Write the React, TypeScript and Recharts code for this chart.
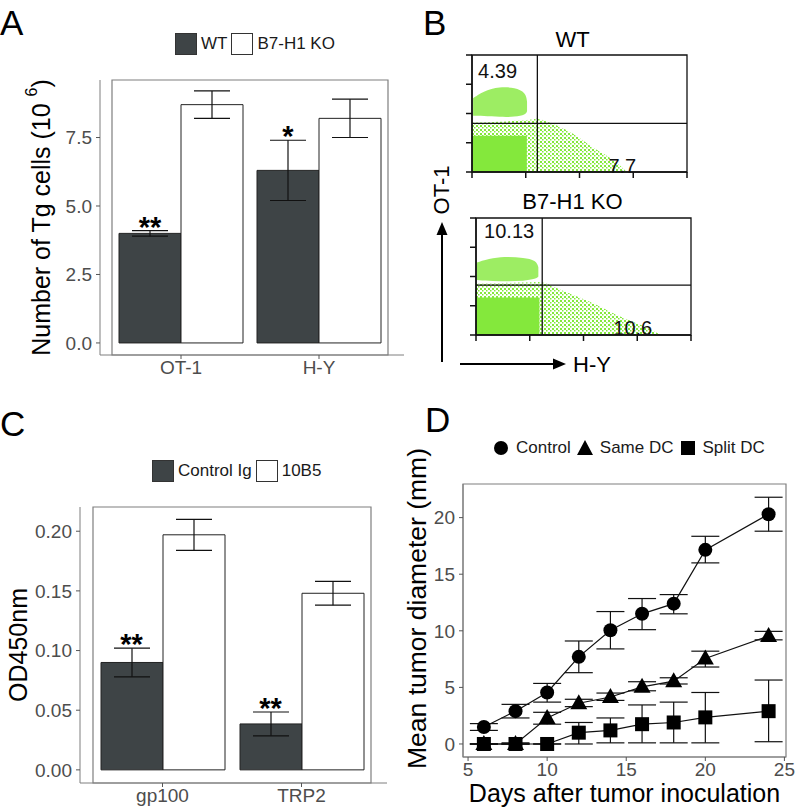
import React from 'react';
import {
  BarChart, Bar, XAxis, YAxis, ErrorBar, ReferenceDot, ReferenceArea, Legend,
  LineChart, Line, ComposedChart, Area, ReferenceLine,
} from 'recharts';

const FONT = '"Liberation Sans", Arial, Helvetica, sans-serif';
const TICK_TEXT = '#4d4d4d';
const BORDER = '#7f7f7f';
const DARK = '#3e4446';
const GREEN = '#84e83c';

// A: Tg cell numbers
const A_CATS = ['OT-1', 'H-Y'];
const A_WT = [4.0, 6.3];
const A_WT_ERR = [0.1, 1.1];
const A_KO = [8.7, 8.2];
const A_KO_ERR = [0.5, 0.7];
const A_SIG = ['**', '*'];
const A_TICKS = [0, 2.5, 5, 7.5];

// C: OD450
const C_CATS = ['gp100', 'TRP2'];
const C_CTRL = [0.09, 0.0385];
const C_CTRL_ERR = [0.012, 0.01];
const C_10B5 = [0.197, 0.148];
const C_10B5_ERR = [0.013, 0.01];
const C_SIG = ['**', '**'];
const C_TICKS = [0, 0.05, 0.1, 0.15, 0.2];

// D: tumor growth
const D_DAYS = [6, 8, 10, 12, 14, 16, 18, 20, 24];
const CONTROL = [1.5, 2.9, 4.55, 7.7, 10.05, 11.5, 12.4, 17.15, 20.3];
const CONTROL_LO = [1.2, 2.3, 3.7, 6.3, 8.4, 10.1, 11.5, 16.0, 18.8];
const CONTROL_HI = [1.8, 3.5, 5.35, 9.1, 11.7, 12.85, 13.2, 18.35, 21.8];
const SAME = [0, 0, 2.3, 3.6, 4.15, 5.05, 5.55, 7.55, 9.55];
const SAME_LO = [0, 0, 1.75, 3.3, 3.85, 4.7, 5.3, 6.8, 9.2];
const SAME_HI = [0, 0.1, 2.8, 3.95, 4.5, 5.5, 5.85, 8.2, 9.95];
const SPLIT = [0, 0, 0, 1.0, 1.2, 1.75, 1.9, 2.35, 2.9];
const SPLIT_LO = [0, 0, 0, 0, 0.1, 0.1, 0.1, 0.1, 0.2];
const SPLIT_HI = [0, 0, 0, 1.9, 2.3, 3.45, 3.7, 4.55, 5.65];
const D_XTICKS = [5, 10, 15, 20, 25];
const D_YTICKS = [0, 5, 10, 15, 20];

// B: flow plots (arbitrary 0-100 log-display units)
const B_MAJOR = [0, 25, 50, 75, 100];
const B_MINOR_OFFSETS = [7.5, 11.9, 15.1, 17.5, 19.5, 21.1, 22.6, 23.9];
const B_MINOR = B_MAJOR.slice(0, 4).flatMap(d => B_MINOR_OFFSETS.map(o => d + o));

const WT_CLOUD_X = [0, 26, 30, 32, 41, 49, 57, 63, 68, 72];
const WT_CLOUD_TOP = [42, 44, 46, 45, 39, 31, 19.5, 14, 7, 0];
const WT_DENSE_X = [0, 25.5];
const WT_DENSE_TOP = [31, 31];
const WT_UPPER_X = [0.5, 5, 13, 20, 25, 25.6];
const WT_UPPER = [[48, 63], [48, 69], [47, 73], [47, 72], [49, 68], [52, 60]];
const WT_PCTS = ['4.39', '7.7'];

const KO_CLOUD_X = [0, 29, 31, 39, 47, 55, 63, 71, 80, 86];
const KO_CLOUD_TOP = [44, 45, 46, 38.5, 33, 27, 19, 13, 6, 0];
const KO_DENSE_X = [0, 29.5];
const KO_DENSE_TOP = [32, 32];
const KO_UPPER_X = [0.4, 8, 15, 22, 28, 29];
const KO_UPPER = [[47, 62], [46, 66], [46, 67], [46, 66], [48, 64], [50, 58]];
const KO_PCTS = ['10.13', '10.6'];

const yTitle = (content: React.ReactNode, dx: number, dy = 0, size = 25) => (props: any) => {
  const {x, y, height} = props.viewBox;
  const cx = x + dx;
  const cy = y + height / 2 + dy;
  return (
    <text x={cx} y={cy} transform={`rotate(-90 ${cx} ${cy})`} textAnchor="middle"
          dominantBaseline="central" fontSize={size} fill="#000">{content}</text>
  );
};

const SwatchLegend = ({items}: {items: {name: string, fill: string}[]}) => (
  <div style={{display: 'flex', alignItems: 'center', fontSize: 17, color: '#1a1a1a', fontFamily: FONT}}>
    {items.map(it => (
      <React.Fragment key={it.name}>
        <span style={{width: 22, height: 22, background: it.fill, border: '1px solid #333', boxSizing: 'border-box', marginRight: 4}}/>
        <span style={{marginRight: 4, whiteSpace: 'nowrap'}}>{it.name}</span>
      </React.Fragment>
    ))}
  </div>
);

const sym = (kind: string) => {
  if (kind === 'circle') return <circle cx={8} cy={8} r={7} fill="#000"/>;
  if (kind === 'triangle') return <polygon points="8,0 16,15 0,15" fill="#000"/>;
  return <rect x={1} y={1} width={14} height={14} fill="#000"/>;
};

const ShapeLegend = () => (
  <div style={{display: 'flex', alignItems: 'center', fontSize: 17, color: '#1a1a1a', fontFamily: FONT}}>
    {[['circle', 'Control'], ['triangle', 'Same DC'], ['square', 'Split DC']].map(([k, n]) => (
      <React.Fragment key={n}>
        <svg width={16} height={16} style={{marginRight: 7}}>{sym(k)}</svg>
        <span style={{marginRight: 6, whiteSpace: 'nowrap'}}>{n}</span>
      </React.Fragment>
    ))}
  </div>
);

const starShape = (text: string) => (p: any) => (
  <text x={p.cx - 31} y={p.cy + 6} textAnchor="middle" fontSize={29} fontWeight="bold" fill="#000">{text}</text>
);

const blank = () => '';

interface BarPanelProps {
  top: number
  width: number
  height: number
  margin: {top: number, right: number, bottom: number, left: number}
  yWidth: number
  cats: string[]
  a: number[]
  aErr: number[]
  b: number[]
  bErr: number[]
  names: string[]
  sig: string[]
  domain: number[]
  ticks: number[]
  digits: number
  xPad: {left: number, right: number}
  xHeight: number
  yLabel: React.ReactNode
  labelDx: number
  legendPos: {left: number, top: number}
}

const BarPanel = (p: BarPanelProps) => {
  const data = p.cats.map((c, i) => ({cat: c, a: p.a[i], aErr: p.aErr[i], b: p.b[i], bErr: p.bErr[i]}));
  return (
    <div style={{position: 'absolute', left: 0, top: p.top}}>
      <BarChart width={p.width} height={p.height} data={data} margin={p.margin} barSize={62} barGap={0}>
        <XAxis dataKey="cat" padding={p.xPad} height={p.xHeight} stroke={BORDER} tickSize={4} tickMargin={2}
               tick={{fill: TICK_TEXT, fontSize: 19}} tickLine={{stroke: '#555'}}/>
        <YAxis type="number" domain={p.domain} ticks={p.ticks} width={p.yWidth} stroke={BORDER}
               tickSize={4} tickMargin={4} tick={{fill: TICK_TEXT, fontSize: 19}} tickLine={{stroke: '#555'}}
               tickFormatter={(v: number) => v.toFixed(p.digits)} allowDataOverflow
               label={{content: yTitle(p.yLabel, p.labelDx)}}/>
        <ReferenceArea y1={p.domain[0]} y2={p.domain[1]} fill="none" stroke={BORDER} strokeWidth={1.2}
                       ifOverflow="visible"/>
        <Legend verticalAlign="middle" align="center" layout="horizontal"
                wrapperStyle={{left: p.legendPos.left, top: p.legendPos.top, width: 'auto'}}
                content={() => <SwatchLegend items={[{name: p.names[0], fill: DARK}, {name: p.names[1], fill: '#fff'}]}/>}/>
        <Bar dataKey="a" name={p.names[0]} fill={DARK} stroke="#222" strokeWidth={1} isAnimationActive={false}>
          <ErrorBar dataKey="aErr" width={18} stroke="#111" strokeWidth={1.2}/>
        </Bar>
        <Bar dataKey="b" name={p.names[1]} fill="#fff" stroke="#222" strokeWidth={1} isAnimationActive={false}>
          <ErrorBar dataKey="bErr" width={18} stroke="#111" strokeWidth={1.2}/>
        </Bar>
        {p.cats.map((c, i) => (
          <ReferenceDot key={c} x={c} y={p.a[i] + p.aErr[i]} r={0} shape={starShape(p.sig[i])}/>
        ))}
      </BarChart>
    </div>
  );
};

const toPts = (xs: number[], ys: any[]) => xs.map((x, i) => ({x, y: ys[i]}));

interface FlowProps {
  left: number
  top: number
  id: string
  title: string
  titleDx: number
  titleOffset: number
  vLine: number
  hLine: number
  cloud: {x: number, y: any}[]
  dense: {x: number, y: any}[]
  upper: {x: number, y: any}[]
  pcts: string[]
  pctPos: number[][]
}

const FlowPlot = (p: FlowProps) => (
  <div style={{position: 'absolute', left: p.left, top: p.top}}>
    <ComposedChart width={256} height={165} margin={{top: 29, right: 9, bottom: 16, left: 30}}>
      <defs>
        <pattern id={`speckle-${p.id}`} width={4} height={4} patternUnits="userSpaceOnUse">
          <rect x={0} y={0} width={2} height={2} fill={GREEN}/>
          <rect x={2} y={2} width={1.5} height={1.5} fill={GREEN}/>
        </pattern>
      </defs>
      <XAxis xAxisId="maj" type="number" dataKey="x" domain={[0, 100]} ticks={B_MAJOR} tickFormatter={blank}
             tickSize={6} tickMargin={0} height={1} stroke="#111" strokeWidth={1.5} interval={0}/>
      <XAxis xAxisId="min" type="number" dataKey="x" domain={[0, 100]} ticks={B_MINOR} tickFormatter={blank}
             tickSize={4} tickMargin={0} height={1} axisLine={false} stroke="#111" strokeWidth={1.2} interval={0}/>
      <XAxis xAxisId="top" orientation="top" type="number" dataKey="x" domain={[0, 100]} tick={false}
             tickLine={false} axisLine={false} height={1}
             label={{content: (lp: any) => (
               <text x={lp.viewBox.x + lp.viewBox.width / 2 + p.titleDx} y={lp.viewBox.y - p.titleOffset}
                     textAnchor="middle" fontSize={22} fill="#000">{p.title}</text>
             )}}/>
      <YAxis yAxisId="maj" type="number" domain={[0, 100]} ticks={B_MAJOR} tickFormatter={blank}
             tickSize={6} tickMargin={0} width={1} stroke="#111" strokeWidth={1.5} interval={0}/>
      <YAxis yAxisId="min" type="number" domain={[0, 100]} ticks={B_MINOR} tickFormatter={blank}
             tickSize={4} tickMargin={0} width={1} axisLine={false} stroke="#111" strokeWidth={1.2} interval={0}/>
      <Area xAxisId="maj" yAxisId="maj" data={p.cloud} dataKey="y" type="basis" fill={`url(#speckle-${p.id})`}
            fillOpacity={1} stroke="none" isAnimationActive={false}/>
      <Area xAxisId="maj" yAxisId="maj" data={p.dense} dataKey="y" type="linear" fill={GREEN}
            fillOpacity={1} stroke="none" isAnimationActive={false}/>
      <Area xAxisId="maj" yAxisId="maj" data={p.upper} dataKey="y" type="basis" fill={GREEN}
            fillOpacity={0.8} stroke="none" isAnimationActive={false}/>
      <ReferenceArea xAxisId="maj" yAxisId="maj" x1={0} x2={100} y1={0} y2={100} fill="none"
                     stroke="#111" strokeWidth={1.3} ifOverflow="visible"/>
      <ReferenceLine xAxisId="maj" yAxisId="maj" x={p.vLine} stroke="#111" strokeWidth={1.3}/>
      <ReferenceLine xAxisId="maj" yAxisId="maj" y={p.hLine} stroke="#111" strokeWidth={1.3}/>
      {p.pcts.map((t, i) => (
        <ReferenceDot key={t} xAxisId="maj" yAxisId="maj" x={p.pctPos[i][0]} y={p.pctPos[i][1]} r={0}
                      shape={(d: any) => (
                        <text x={d.cx} y={d.cy} textAnchor="middle" dominantBaseline="central"
                              fontSize={20} fill="#111">{t}</text>
                      )}/>
      ))}
    </ComposedChart>
  </div>
);

const dotOf = (kind: string) => (props: any) => {
  const {cx, cy, index} = props;
  const k = `${kind}${index}`;
  if (kind === 'circle') return <circle key={k} cx={cx} cy={cy} r={7} fill="#000"/>;
  if (kind === 'triangle') return <polygon key={k} points={`${cx},${cy - 9} ${cx + 8.5},${cy + 6} ${cx - 8.5},${cy + 6}`} fill="#000"/>;
  return <rect key={k} x={cx - 7} y={cy - 7} width={14} height={14} fill="#000"/>;
};

const GrowthPanel = () => {
  const data = D_DAYS.map((d, i) => ({
    day: d,
    control: CONTROL[i], controlErr: [CONTROL[i] - CONTROL_LO[i], CONTROL_HI[i] - CONTROL[i]],
    same: SAME[i], sameErr: [SAME[i] - SAME_LO[i], SAME_HI[i] - SAME[i]],
    split: SPLIT[i], splitErr: [SPLIT[i] - SPLIT_LO[i], SPLIT_HI[i] - SPLIT[i]],
  }));
  const domX = [4.68, 25.1];
  const domY = [-1.15, 22.97];
  return (
    <div style={{position: 'absolute', left: 400, top: 400}}>
      <LineChart width={396} height={412} data={data} margin={{top: 84, right: 10, bottom: 5, left: 23}}>
        <XAxis dataKey="day" type="number" domain={domX} ticks={D_XTICKS} height={50} stroke={BORDER}
               tickSize={4} tickMargin={2} tick={{fill: TICK_TEXT, fontSize: 19}} tickLine={{stroke: '#555'}}
               allowDataOverflow
               label={{content: (lp: any) => (
                 <text x={lp.viewBox.x + lp.viewBox.width / 2} y={lp.viewBox.y + 45} textAnchor="middle"
                       fontSize={25} fill="#000">Days after tumor inoculation</text>
               )}}/>
        <YAxis type="number" domain={domY} ticks={D_YTICKS} width={40} stroke={BORDER} tickSize={4} tickMargin={4}
               tick={{fill: TICK_TEXT, fontSize: 19}} tickLine={{stroke: '#555'}} allowDataOverflow
               label={{content: yTitle('Mean tumor diameter (mm)', -6, -12, 26.5)}}/>
        <ReferenceArea x1={domX[0]} x2={domX[1]} y1={domY[0]} y2={domY[1]} fill="none" stroke={BORDER}
                       strokeWidth={1.2} ifOverflow="visible"/>
        <Legend verticalAlign="middle" align="center" layout="horizontal"
                wrapperStyle={{left: 93, top: 38, width: 'auto'}} content={() => <ShapeLegend/>}/>
        <Line dataKey="control" name="Control" stroke="#111" strokeWidth={1.2} dot={dotOf('circle')}
              activeDot={false} isAnimationActive={false}>
          <ErrorBar dataKey="controlErr" width={14} stroke="#111" strokeWidth={1.2} direction="y"/>
        </Line>
        <Line dataKey="same" name="Same DC" stroke="#111" strokeWidth={1.2} dot={dotOf('triangle')}
              activeDot={false} isAnimationActive={false}>
          <ErrorBar dataKey="sameErr" width={14} stroke="#111" strokeWidth={1.2} direction="y"/>
        </Line>
        <Line dataKey="split" name="Split DC" stroke="#111" strokeWidth={1.2} dot={dotOf('square')}
              activeDot={false} isAnimationActive={false}>
          <ErrorBar dataKey="splitErr" width={14} stroke="#111" strokeWidth={1.2} direction="y"/>
        </Line>
      </LineChart>
    </div>
  );
};

const Overlay = () => (
  <svg width={796} height={812} style={{position: 'absolute', left: 0, top: 0, pointerEvents: 'none'}}
       fontFamily={FONT}>
    <text x={0} y={35} fontSize={35} fill="#000">A</text>
    <text x={423} y={35} fontSize={35} fill="#000">B</text>
    <text x={0} y={436} fontSize={35} fill="#000">C</text>
    <text x={425} y={432} fontSize={35} fill="#000">D</text>
    <line x1={442} y1={362} x2={442} y2={230} stroke="#000" strokeWidth={2}/>
    <polygon points="442,222 436.5,235 447.5,235" fill="#000"/>
    <line x1={460} y1={364} x2={556} y2={364} stroke="#000" strokeWidth={2}/>
    <polygon points="566,364 553,358.5 553,369.5" fill="#000"/>
    <text x={441} y={190} transform="rotate(-90 441 190)" textAnchor="middle" dominantBaseline="central"
          fontSize={22} fill="#000">OT-1</text>
    <text x={573} y={364} dominantBaseline="central" fontSize={22} fill="#000">H-Y</text>
  </svg>
);

const App = () => (
  <div style={{position: 'absolute', left: 0, top: 0, width: 796, height: 812, background: '#fff', fontFamily: FONT}}>
    <BarPanel top={0} width={420} height={400} margin={{top: 80, right: 16, bottom: 15, left: 50}} yWidth={50}
              cats={A_CATS} a={A_WT} aErr={A_WT_ERR} b={A_KO} bErr={A_KO_ERR} names={['WT', 'B7-H1 KO']}
              sig={A_SIG} domain={[-0.44, 9.6]} ticks={A_TICKS} digits={1} xPad={{left: 12, right: 16}}
              xHeight={30} labelDx={-9} legendPos={{left: 175, top: 33}}
              yLabel={<>
                <tspan>Number of Tg cells (10 </tspan>
                <tspan dy={-10} fontSize={16}>6</tspan>
                <tspan dy={10}>)</tspan>
              </>}/>
    <BarPanel top={400} width={400} height={412} margin={{top: 107, right: 13, bottom: 4, left: 30}} yWidth={50}
              cats={C_CATS} a={C_CTRL} aErr={C_CTRL_ERR} b={C_10B5} bErr={C_10B5_ERR} names={['Control Ig', '10B5']}
              sig={C_SIG} domain={[-0.011, 0.2203]} ticks={C_TICKS} digits={2} xPad={{left: 13, right: 16}}
              xHeight={25} labelDx={-12.5} legendPos={{left: 152, top: 60}} yLabel="OD450nm"/>
    <FlowPlot left={440} top={25} id="wt" title="WT" titleDx={-7} titleOffset={7} vLine={30.4} hLine={41.5}
              cloud={toPts(WT_CLOUD_X, WT_CLOUD_TOP.map(t => [0, t]))}
              dense={toPts(WT_DENSE_X, WT_DENSE_TOP.map(t => [0, t]))}
              upper={toPts(WT_UPPER_X, WT_UPPER)}
              pcts={WT_PCTS} pctPos={[[11.9, 86.4], [69.9, 5.5]]}/>
    <FlowPlot left={444} top={188} id="ko" title="B7-H1 KO" titleDx={-11} titleOffset={8} vLine={30.8} hLine={42.7}
              cloud={toPts(KO_CLOUD_X, KO_CLOUD_TOP.map(t => [0, t]))}
              dense={toPts(KO_DENSE_X, KO_DENSE_TOP.map(t => [0, t]))}
              upper={toPts(KO_UPPER_X, KO_UPPER)}
              pcts={KO_PCTS} pctPos={[[15.4, 88.5], [72.9, 6.4]]}/>
    <GrowthPanel/>
    <Overlay/>
  </div>
);

export default App;
